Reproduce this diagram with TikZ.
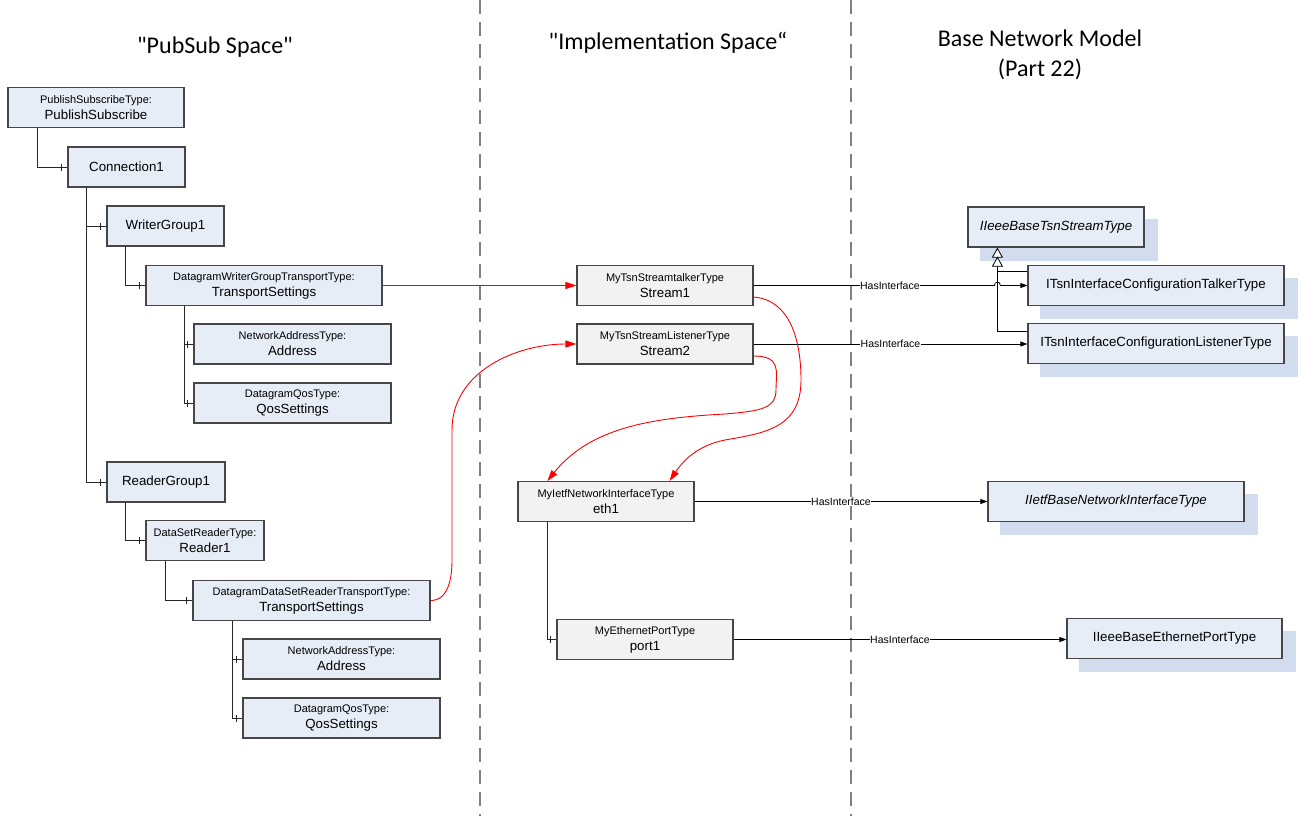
\documentclass[tikz,border=0pt]{standalone}
\usepackage{fontspec}
\setmainfont{Liberation Sans}
\newfontfamily\titlefont{Carlito}
\usetikzlibrary{arrows.meta,decorations.markings,calc}

\definecolor{boxblue}{RGB}{231,237,247}
\definecolor{shadowblue}{RGB}{209,220,238}
\definecolor{boxgray}{RGB}{242,242,242}
\definecolor{boxline}{RGB}{70,70,70}
\definecolor{sepgray}{RGB}{128,128,128}

\pgfdeclarelayer{bg}
\pgfsetlayers{bg,main}

\newcommand\bigtxt[1]{{\fontsize{13.3}{16}\selectfont #1}}

\begin{document}
\begin{tikzpicture}[x=1pt,y=-1pt,
  box/.style={draw=boxline, line width=1.2pt, inner sep=0pt, minimum height=40pt,
              align=center, font=\fontsize{11}{16}\selectfont},
  lbox/.style={box, fill=boxblue},
  mbox/.style={box, fill=boxgray},
  rbox/.style={box, fill=boxblue, font=\fontsize{13.3}{16}\selectfont},
  single/.style={font=\fontsize{13.3}{16}\selectfont},
  title/.style={font=\titlefont\fontsize{24}{29}\selectfont, anchor=base, inner sep=0pt},
  separator/.style={draw=sepgray, line width=2.5pt, dash pattern=on 14pt off 8pt},
  tree/.style={draw=black!85, line width=0.9pt, postaction={decorate},
    decoration={markings, mark=at position -6pt with
      {\draw[black!85, line width=0.9pt] (0,-3.5pt) -- (0,3.5pt);}}},
  hasif/.style={draw=black, line width=0.8pt, -{Triangle[length=7pt,width=5pt]}},
  gen/.style={draw=black, line width=0.8pt, -{Triangle[open,length=10pt,width=11pt,fill=white]}},
  redarr/.style={draw=red, line width=0.9pt, -{Triangle[length=11pt,width=7pt]}},
  lbl/.style={fill=white, inner sep=0.6pt, font=\fontsize{10.5}{12}\selectfont}
]
\useasboundingbox (0,0) rectangle (1300,816);

% space separators
\draw[separator] (480,0) -- (480,816);
\draw[separator] (851,0) -- (851,816);

% column headings
\node[title] (h1) at (215,53) {"PubSub Space"};
\node[title] (h2) at (668,50) {"Implementation Space“};
\node[title] (h3a) at (1040,47) {Base Network Model};
\node[title] (h3b) at (1040,77) {(Part 22)};

% PubSub configuration tree
\node[lbox, minimum width=176pt] (ps)  at (96,107.5)  {PublishSubscribeType:\\\bigtxt{PublishSubscribe}};
\node[lbox, single, minimum width=117pt] (c1) at (126.5,167) {Connection1};
\node[lbox, single, minimum width=117pt] (wg) at (165.5,226) {WriterGroup1};
\node[lbox, minimum width=236pt] (wts) at (264,285.5) {DatagramWriterGroupTransportType:\\\bigtxt{TransportSettings}};
\node[lbox, minimum width=197pt] (wa)  at (292.5,344) {NetworkAddressType:\\\bigtxt{Address}};
\node[lbox, minimum width=197pt] (wq)  at (292.5,403) {DatagramQosType:\\\bigtxt{QosSettings}};
\node[lbox, single, minimum width=118pt] (rg) at (166,482) {ReaderGroup1};
\node[lbox, minimum width=118pt] (r1)  at (205,540.5) {DataSetReaderType:\\\bigtxt{Reader1}};
\node[lbox, minimum width=237pt] (rts) at (311.5,600.5) {DatagramDataSetReaderTransportType:\\\bigtxt{TransportSettings}};
\node[lbox, minimum width=197pt] (ra)  at (341.5,659) {NetworkAddressType:\\\bigtxt{Address}};
\node[lbox, minimum width=197pt] (rq)  at (341.5,718) {DatagramQosType:\\\bigtxt{QosSettings}};

\draw[tree] ([xshift=30pt]ps.south west) |- (c1.west);
\draw[tree] ([xshift=19pt]c1.south west) |- (wg.west);
\draw[tree] ([xshift=19pt]c1.south west) |- (rg.west);
\draw[tree] ([xshift=19pt]wg.south west) |- (wts.west);
\draw[tree] ([xshift=39pt]wts.south west) |- (wa.west);
\draw[tree] ([xshift=39pt]wts.south west) |- (wq.west);
\draw[tree] ([xshift=19pt]rg.south west) |- (r1.west);
\draw[tree] ([xshift=20pt]r1.south west) |- (rts.west);
\draw[tree] ([xshift=40pt]rts.south west) |- (ra.west);
\draw[tree] ([xshift=40pt]rts.south west) |- (rq.west);

% implementation objects
\node[mbox, minimum width=176pt] (s1)   at (665,285.5) {MyTsnStreamtalkerType\\\bigtxt{Stream1}};
\node[mbox, minimum width=176pt] (s2)   at (665,344)   {MyTsnStreamListenerType\\\bigtxt{Stream2}};
\node[mbox, minimum width=176pt] (eth)  at (606,501.5) {MyIetfNetworkInterfaceType\\\bigtxt{eth1}};
\node[mbox, minimum width=176pt] (port) at (645,639.5) {MyEthernetPortType\\\bigtxt{port1}};

\draw[tree] ([xshift=30pt]eth.south west) |- (port.west);

% base network model interfaces
\node[rbox, minimum width=176pt] (base)  at (1056,227)    {\itshape IIeeeBaseTsnStreamType};
\node[rbox, minimum width=256pt] (talk)  at (1156,285.5)  {ITsnInterfaceConfigurationTalkerType};
\node[rbox, minimum width=256pt] (list)  at (1156,343.5)  {ITsnInterfaceConfigurationListenerType};
\node[rbox, minimum width=256pt] (ietf)  at (1116,501.5)  {\itshape IIetfBaseNetworkInterfaceType};
\node[rbox, minimum width=215pt] (eport) at (1174.5,638.5) {IIeeeBaseEthernetPortType};

\begin{pgfonlayer}{bg}
  \foreach \n in {base,talk,list,ietf,eport}
    \fill[shadowblue] ([xshift=13pt,yshift=-13pt]\n.south west) rectangle ([xshift=13pt,yshift=-13pt]\n.north east);
\end{pgfonlayer}

% generalisation
\draw[gen] ([yshift=-8pt]list.north west) -| ([xshift=30pt]base.south west);
\draw[gen] ([yshift=-6pt]talk.north west) -| ([xshift=30pt,yshift=-9pt]base.south west);

% HasInterface references
\coordinate (hop) at ([xshift=30pt]base.south west |- s1.east);
\draw[hasif] (s1.east) -- node[lbl, pos=0.566] {HasInterface} ([xshift=-3pt]hop)
  .. controls ([xshift=-3pt,yshift=4.5pt]hop) and ([xshift=3pt,yshift=4.5pt]hop) .. ([xshift=3pt]hop)
  -- (talk.west);
\draw[hasif] (s2.east) -- node[lbl] {HasInterface} (s2.east -| list.west);
\draw[hasif] (eth.east) -- node[lbl] {HasInterface} (ietf.west);
\draw[hasif] (port.east) -- node[lbl] {HasInterface} (port.east -| eport.west);

% mappings between the spaces
\draw[redarr] (wts.east) -- (s1.west);
\draw[redarr] (rts.east) to[out=0,in=-90] (452,560) -- (452,430) to[out=90,in=180] (s2.west);
\draw[redarr] ([yshift=-12pt]s2.east) .. controls (782,356) and (776,372) .. (776,390)
  .. controls (776,408) and (762,411) .. (725,414)
  .. controls (650,418) and (590,428) .. ([xshift=30pt]eth.north west);
\draw[redarr] ([yshift=-11.5pt]s1.east) .. controls (790,300) and (801,340) .. (801,380)
  .. controls (801,428) and (765,433) .. (725,440)
  .. controls (700,445) and (685,458) .. ([xshift=-25pt]eth.north east);
\end{tikzpicture}
\end{document}
